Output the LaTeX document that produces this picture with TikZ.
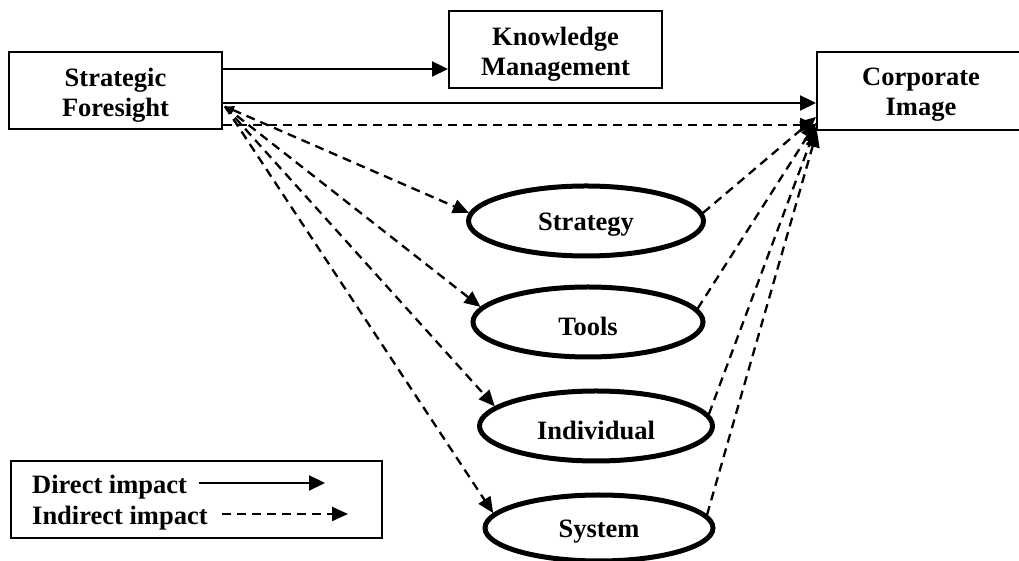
\documentclass[tikz,border=0pt]{standalone}
\usepackage{fontspec}
\setmainfont{Liberation Serif}
\usetikzlibrary{arrows.meta,shapes.geometric}
\begin{document}
\begin{tikzpicture}[x=1pt,y=1pt,
  every node/.style={font=\fontsize{26.5}{30}\selectfont\bfseries},
  box/.style={draw,line width=2pt,minimum width=213pt,minimum height=77pt,inner sep=0pt},
  med/.style={draw,ellipse,line width=5pt,inner sep=0pt},
  lbl/.style={align=center,inner sep=0pt},
  direct/.style={line width=2.3pt,-{Triangle[length=16pt,width=15pt]}},
  indirect/.style={line width=2.3pt,dash pattern=on 9pt off 6pt,-{Triangle[length=16pt,width=14pt]}},
]
\useasboundingbox (0,0) rectangle (1019,561);
% main boxes
\node[box] (sf) at (115.5,470.5) {};
\node[lbl] (sft) at ([yshift=-5pt]sf.center) {Strategic\\Foresight};
\node[box] (km) at (555.5,511.5) {};
\node[lbl] (kmt) at ([yshift=-5pt]km.center) {Knowledge\\Management};
\node[box,minimum width=208pt,minimum height=78pt] (ci) at (921,470) {};
\node[lbl] (cit) at ([yshift=-4pt]ci.center) {Corporate\\Image};
% mediators
\node[med,minimum width=235pt,minimum height=70pt] (s1) at (586,340) {};
\node[lbl] (s1t) at ([yshift=-4pt]s1.center) {Strategy};
\node[med,minimum width=230pt,minimum height=70pt] (s2) at (588,239) {};
\node[lbl] (s2t) at ([yshift=-4pt]s2.center) {Tools};
\node[med,minimum width=233pt,minimum height=70pt] (s3) at (596,135) {};
\node[lbl] (s3t) at ([yshift=-4pt]s3.center) {Individual};
\node[med,minimum width=228pt,minimum height=66pt] (s4) at (599,33) {};
\node[lbl] (s4t) at ([yshift=-4pt]s4.center) {System};
% direct arrows
\draw[direct] ([yshift=21.5pt]sf.east) -- ([yshift=21.5pt]sf.east -| km.west);
\draw[direct] ([yshift=-12.5pt]sf.east) -- ([yshift=-12.5pt]sf.east -| ci.west);
% indirect arrows
\draw[indirect] ([yshift=-34.5pt]sf.east) -- ([yshift=-34.5pt]sf.east -| ci.west);
\coordinate (fan) at ([xshift=2pt,yshift=-16pt]sf.east);
\draw[indirect,{Triangle[length=9pt,width=8pt]}-{Triangle[length=16pt,width=14pt]}] (fan) -- (s1.176);
\draw[indirect] (fan) -- (s2.172);
\draw[indirect] (fan) -- (s3.169);
\draw[indirect] (fan) -- (s4.172);
\draw[indirect] (s1.4) -- ([yshift=14pt]ci.south west);
\draw[indirect] (s2.7) -- ([yshift=8pt]ci.south west);
\draw[indirect] (s3.6.5) -- ([yshift=4pt]ci.south west);
\draw[indirect] (s4.7.5) -- ([xshift=1pt]ci.south west);
% legend
\node[draw,line width=2pt,minimum width=371pt,minimum height=77pt,inner sep=0pt] (legend) at (196.5,61.5) {};
\node[anchor=base west,inner sep=0pt] (ld) at (32,67) {Direct impact};
\node[anchor=base west,inner sep=0pt] (li) at (32,36) {Indirect impact};
\coordinate (lds) at (199,78);
\coordinate (lde) at (325,78);
\coordinate (lis) at (222,47);
\coordinate (lie) at (348,47);
\draw[direct] (lds) -- (lde);
\draw[indirect] (lis) -- (lie);
\end{tikzpicture}
\end{document}
